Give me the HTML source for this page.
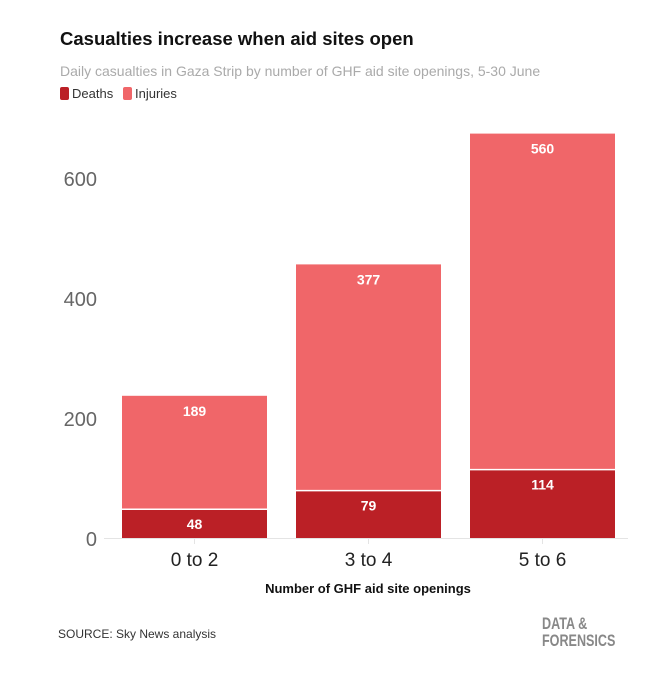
<!DOCTYPE html>
<html><head><meta charset="utf-8"><style>
body{margin:0;background:#fff;font-family:"Liberation Sans",sans-serif;}
#wrap{position:relative;width:647px;height:673px;overflow:hidden;}
.t{position:absolute;white-space:nowrap;}
</style></head><body>
<div id="wrap">
<div class="t" style="left:60px;top:28px;font-size:18.5px;font-weight:bold;color:#111;">Casualties increase when aid sites open</div>
<div class="t" style="left:60px;top:63px;font-size:14px;color:#aaa;">Daily casualties in Gaza Strip by number of GHF aid site openings, 5-30 June</div>
<div class="t" style="left:60px;top:86px;font-size:13px;color:#333;"><span style="display:inline-block;width:9px;height:13px;background:#bb2026;border-radius:2px;vertical-align:-2px;margin-right:3px"></span>Deaths</div>
<div class="t" style="left:123px;top:86px;font-size:13px;color:#333;"><span style="display:inline-block;width:9px;height:13px;background:#f06669;border-radius:2px;vertical-align:-2px;margin-right:3px"></span>Injuries</div>
<svg id="chart" width="647" height="673" style="position:absolute;left:0;top:0"></svg>
<div class="t" style="left:0;width:736px;text-align:center;top:581px;font-size:13px;font-weight:bold;color:#111;">Number of GHF aid site openings</div>
<div class="t" style="left:58px;top:627px;font-size:12px;color:#333;">SOURCE: Sky News analysis</div>
<div class="t" style="left:542px;top:615px;font-size:17px;font-weight:bold;color:#888;line-height:17px;transform:scaleX(0.74);transform-origin:left;">DATA &amp;<br>FORENSICS</div>
</div>
<script>
const categories=["0 to 2","3 to 4","5 to 6"];
const deaths=[48,79,114];
const injuries=[189,377,560];
const yTicks=[0,200,400,600];
const NS="http://www.w3.org/2000/svg";
const svg=document.getElementById('chart');
const y0=538,k=0.6;
function y(v){return y0-v*k;}
function xStart(i){return 122+i*174;}
const bw=145;
function mk(t,a){const e=document.createElementNS(NS,t);for(const n in a)e.setAttribute(n,a[n]);svg.appendChild(e);return e;}
yTicks.forEach(v=>{
 const t=mk('text',{x:97,y:y(v)+8,'text-anchor':'end','font-size':20,fill:'#666','font-family':'Liberation Sans, sans-serif'});
 t.textContent=v;
 
 
});
const base=mk('line',{x1:104,x2:628,y1:y0+0.5,y2:y0+0.5,stroke:'#e4e4e4'});


categories.forEach((c,i)=>{
 const x=xStart(i),cx=x+bw/2;
 const d=deaths[i],inj=injuries[i];
 const ri=mk('rect',{x:x,y:y(d+inj),width:bw,height:inj*k,fill:'#f06669'});
 
 
 const rd=mk('rect',{x:x,y:y(d),width:bw,height:d*k,fill:'#bb2026'});
 
 
 const sep=mk('line',{x1:x,x2:x+bw,y1:y(d),y2:y(d),stroke:'#fff','stroke-width':1.5});
 
 
 const li=mk('text',{x:cx,y:y(d+inj)+20,'text-anchor':'middle','font-size':14,'font-weight':'bold',fill:'#fff','font-family':'Liberation Sans, sans-serif'});
 li.textContent=inj;
 
 
 const ld=mk('text',{x:cx,y:y(d)+20,'text-anchor':'middle','font-size':14,'font-weight':'bold',fill:'#fff','font-family':'Liberation Sans, sans-serif'});
 ld.textContent=d;
 
 
 const tk=mk('line',{x1:cx,x2:cx,y1:y0+1,y2:y0+6,stroke:'#e4e4e4'});
 
 
 const tl=mk('text',{x:cx,y:y0+28,'text-anchor':'middle','font-size':19,fill:'#222','font-family':'Liberation Sans, sans-serif'});
 tl.textContent=c;
 
 
});
</script>
</body></html>
